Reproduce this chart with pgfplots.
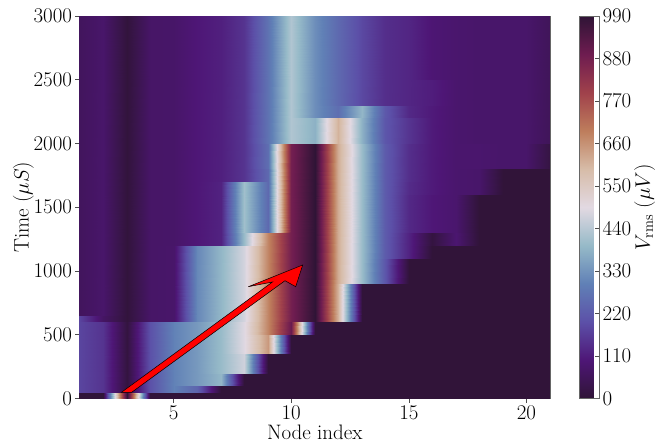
\RequirePackage{fix-cm}
\documentclass[border=0pt]{standalone}
\usepackage{pgfplots}
\pgfplotsset{compat=1.18}

% one horizontal band: time from #1 to #2, values at nodes 1..21
\newcommand\band[3]{%
  \gdef\rowa{}\gdef\rowb{}%
  \foreach \v [count=\i] in {#3} {\xdef\rowa{\rowa (\i,#1) [\v]}\xdef\rowb{\rowb (\i,#2) [\v]}}%
  \edef\tmp{\noexpand\addplot[surf,shader=interp,mesh/cols=21,point meta=explicit] coordinates {\rowa \rowb};}%
  \tmp}

\def\bigfont{\fontsize{21}{25}\selectfont}

\begin{document}
\begin{tikzpicture}
\path[use as bounding box] (-79.5bp,-44.5bp) rectangle (587.5bp,398.5bp);
\begin{axis}[
    scale only axis,
    width=470.5bp, height=382.5bp,
    xmin=1, xmax=21, ymin=0, ymax=3000,
    xtick={5,10,15,20}, ytick={0,500,...,3000},
    tick align=outside, xtick pos=bottom, ytick pos=left,
    major tick length=4bp,
    tick style={black!70,line width=0.6pt},
    axis line style={black!60,line width=0.7pt},
    tick label style={font=\bigfont},
    label style={font=\bigfont},
    yticklabel style={/pgf/number format/1000 sep={}},
    scaled ticks=false,
    xlabel={Node index},
    ylabel={Time ($\mu S$)},
    xlabel style={at={(axis description cs:0.5,0)},anchor=north,yshift=-23bp},
    ylabel style={at={(axis description cs:0,0.5)},anchor=south,xshift=0bp,yshift=42bp},
    colormap={twshift}{
      rgb255=(47,20,54) rgb255=(78,22,118) rgb255=(92,80,168) rgb255=(96,128,182)
      rgb255=(150,186,200) rgb255=(226,217,226) rgb255=(215,188,168) rgb255=(190,125,92)
      rgb255=(160,65,75) rgb255=(110,28,80) rgb255=(47,20,54)},
    point meta min=0, point meta max=990,
    colorbar,
    colorbar style={
      at={(1.0627,0)}, anchor=south west,
      scale only axis, width=19.5bp, height=382.5bp,
      ytick={0,110,...,990},
      ytick pos=right, yticklabel pos=right,
      major tick length=4bp,
      tick label style={font=\bigfont},
      ylabel={$V_{\mathrm{rms}}$ ($\mu V$)},
      ylabel style={font=\bigfont,yshift=4bp},
      axis line style={black!60,line width=0.7pt},
    },
]
\band{0}{50}{5,5,990,5,5,5,5,5,5,5,5,5,5,5,5,5,5,5,5,5,5}
\band{50}{100}{180,150,15,200,300,240,5,5,5,5,5,5,5,5,5,5,5,5,5,5,5}
\band{100}{200}{180,150,15,200,300,340,390,5,5,5,5,5,5,5,5,5,5,5,5,5,5}
\band{200}{350}{180,150,15,200,300,340,400,470,5,5,5,5,5,5,5,5,5,5,5,5,5}
\band{350}{500}{180,150,15,200,300,340,400,490,650,5,5,5,5,5,5,5,5,5,5,5,5}
\band{500}{600}{180,150,15,200,300,340,400,490,680,900,5,5,5,5,5,5,5,5,5,5,5}
\band{600}{650}{180,70,10,75,80,310,390,475,680,880,990,610,5,5,5,5,5,5,5,5,5}
\band{650}{900}{60,80,10,75,80,310,390,475,680,880,990,610,5,5,5,5,5,5,5,5,5}
\band{900}{1100}{60,80,10,75,80,310,390,475,680,880,990,620,400,210,5,5,5,5,5,5,5}
\band{1100}{1200}{60,80,10,75,80,310,390,475,680,880,990,620,400,220,120,5,5,5,5,5,5}
\band{1200}{1300}{60,80,10,75,78,100,120,400,680,880,990,620,400,220,120,15,90,5,5,5,5}
\band{1300}{1600}{60,80,10,75,78,100,120,410,250,880,990,620,400,220,130,100,85,5,5,5,5}
\band{1600}{1700}{60,80,10,75,78,100,120,410,250,880,990,620,400,220,135,105,85,80,5,5,5}
\band{1700}{1800}{60,80,10,75,78,100,115,150,250,880,990,620,400,220,140,105,85,80,5,5,5}
\band{1800}{2000}{60,80,10,75,78,100,115,150,260,880,990,620,400,220,140,105,85,85,80,80,20}
\band{2000}{2200}{60,80,10,75,78,100,115,150,270,430,380,610,380,210,150,105,85,80,80,80,55}
\band{2200}{2300}{60,80,10,75,78,100,115,150,270,430,320,260,390,215,130,105,85,80,80,80,55}
\band{2300}{2500}{60,80,10,75,78,100,115,150,270,430,320,250,185,140,125,110,85,80,80,80,55}
\band{2500}{3000}{60,80,10,75,78,100,115,150,270,430,320,250,185,140,125,95,85,80,80,80,55}
\end{axis}
% red annotation arrow, in pixels from the lower left of the axis
\draw[fill=red,draw=black,line width=0.5pt,line join=miter]
  (42bp,6.2bp) -- (193bp,116.5bp) -- (168.8bp,111.8bp) -- (223.2bp,133.5bp)
  -- (216.2bp,111.8bp) -- (205.5bp,117.8bp) -- (52.2bp,6.2bp) -- cycle;
\end{tikzpicture}
\end{document}
